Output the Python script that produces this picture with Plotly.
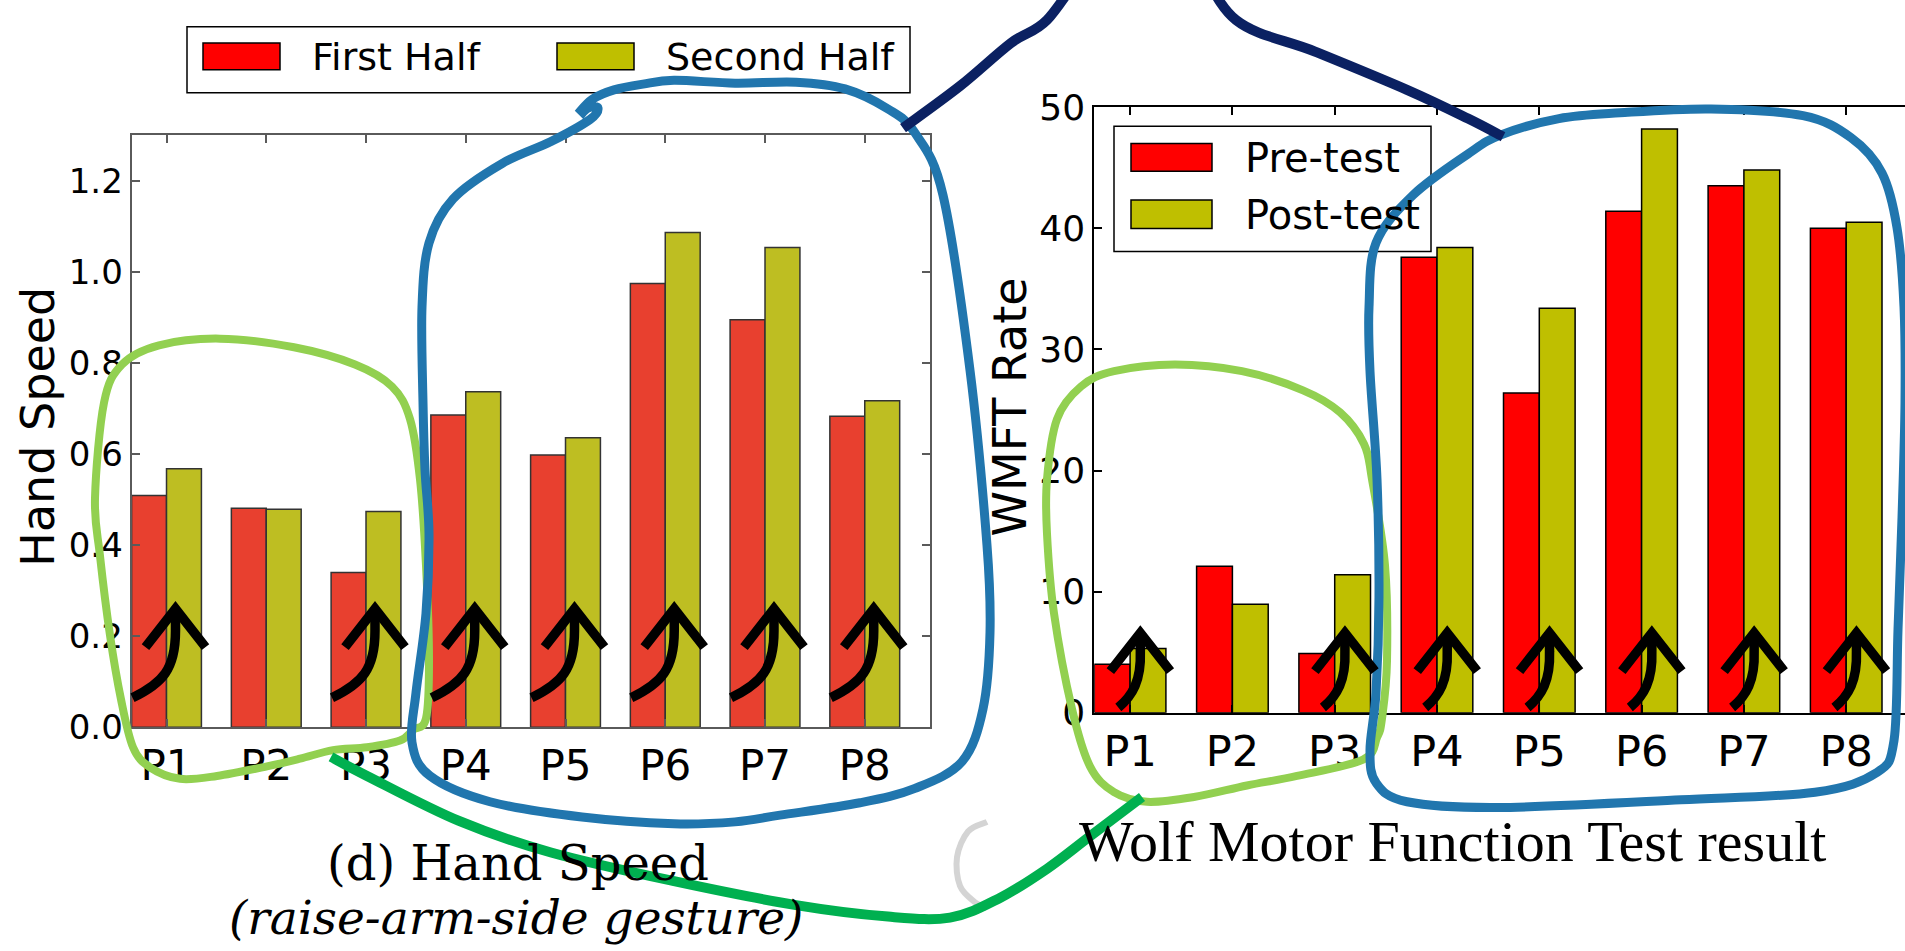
import numpy as np
import plotly.graph_objects as go

# ---------------- data ----------------
categories = ["P1", "P2", "P3", "P4", "P5", "P6", "P7", "P8"]
hand_first_half = [0.509, 0.481, 0.340, 0.686, 0.598, 0.975, 0.895, 0.683]
hand_second_half = [0.568, 0.479, 0.474, 0.737, 0.636, 1.087, 1.054, 0.717]
wmft_pre = [4.0, 12.1, 4.9, 37.6, 26.4, 41.4, 43.5, 40.0]
wmft_post = [5.3, 8.95, 11.4, 38.4, 33.4, 48.2, 44.8, 40.5]
hand_ticks = [0.0, 0.2, 0.4, 0.6, 0.8, 1.0, 1.2]
wmft_ticks = [0, 10, 20, 30, 40, 50]
left_series = ["First Half", "Second Half"]
right_series = ["Pre-test", "Post-test"]
improved = ["P1", "P3", "P4", "P5", "P6", "P7", "P8"]

# ---------------- geometry / style ----------------
W, H = 1905, 951
L_X0, L_X1, L_YT, L_YB = 131.6, 929.6, 120.7, 739.0
R_X0, R_UNIT, R_YT, R_YB = 1094.3, 102.3, 91.0, 724.0
BW = 0.35
L_RED, L_YEL = "#E8402F", "#BEBE22"
R_RED, R_YEL = "#FF0000", "#BFBF00"
BLUE, LGREEN, DGREEN, NAVY = "#2176AE", "#92D050", "#00B050", "#0B2162"
FONT = "DejaVu Sans"

x = np.arange(len(categories))


def pp(px, py):
    return px / W, 1 - py / H


def fmt(px, py):
    a, b = pp(px, py)
    return f"{a:.5f},{b:.5f}"


def smooth_path(pts, closed=False):
    pts = [np.array(p, float) for p in pts]
    n = len(pts)
    s = "M" + fmt(*pts[0])
    segs = n if closed else n - 1
    for i in range(segs):
        p0 = pts[(i - 1) % n] if (closed or i > 0) else pts[i]
        p1 = pts[i % n]
        p2 = pts[(i + 1) % n]
        p3 = pts[(i + 2) % n] if (closed or i + 2 < n) else pts[(i + 1) % n]
        c1 = p1 + (p2 - p0) / 6
        c2 = p2 - (p3 - p1) / 6
        s += " C" + fmt(*c1) + " " + fmt(*c2) + " " + fmt(*p2)
    if closed:
        s += " Z"
    return s


def stroke(pts, color, width, closed=False):
    return dict(type="path", xref="paper", yref="paper", path=smooth_path(pts, closed),
                line=dict(color=color, width=width), fillcolor="rgba(0,0,0,0)", layer="above")


def arrow(ax, ay, dx, dy, c1, c2):
    bx, by = ax + dx, ay + dy
    stem = ("M" + fmt(bx, by) + " C" + fmt(ax + c1[0], ay + c1[1]) + " " + fmt(ax + c2[0], ay + c2[1])
            + " " + fmt(ax, ay + dy * 0.25) + " L" + fmt(ax, ay))
    head = "M" + fmt(ax - 30, ay + 40) + " L" + fmt(ax, ay) + " L" + fmt(ax + 30, ay + 40)
    return [dict(type="path", xref="paper", yref="paper", path=p, line=dict(color="black", width=9.5),
                 layer="above") for p in (stem, head)]


fig = go.Figure()
fig.add_trace(go.Bar(x=x, y=hand_first_half, width=BW, offset=0, name=left_series[0],
                     marker=dict(color=L_RED, line=dict(color="#333333", width=1.5)),
                     xaxis="x", yaxis="y", showlegend=False))
fig.add_trace(go.Bar(x=x, y=hand_second_half, width=BW, offset=BW, name=left_series[1],
                     marker=dict(color=L_YEL, line=dict(color="#333333", width=1.5)),
                     xaxis="x", yaxis="y", showlegend=False))
fig.add_trace(go.Bar(x=x, y=wmft_pre, width=BW, offset=0, name=right_series[0],
                     marker=dict(color=R_RED, line=dict(color="black", width=1.5)),
                     xaxis="x2", yaxis="y2", showlegend=False))
fig.add_trace(go.Bar(x=x, y=wmft_post, width=BW, offset=BW, name=right_series[1],
                     marker=dict(color=R_YEL, line=dict(color="black", width=1.5)),
                     xaxis="x2", yaxis="y2", showlegend=False))

r_xmax = (W - R_X0) / R_UNIT
ax_common = dict(ticks="inside", ticklen=8, tickwidth=1.5, showgrid=False, zeroline=False, showline=True,
                 linewidth=2)
fig.update_layout(
    width=W, height=H, margin=dict(l=0, r=0, t=0, b=0), barmode="overlay",
    plot_bgcolor="white", paper_bgcolor="white", showlegend=False,
    xaxis=dict(domain=[L_X0 / W, L_X1 / W], range=[0, 8], tickvals=x + BW, ticktext=categories,
               mirror="ticks", linecolor="#5a5a5a", tickcolor="#5a5a5a",
               tickfont=dict(family=FONT, size=42, color="black"), anchor="y", **ax_common),
    yaxis=dict(domain=[1 - L_YB / H, 1 - L_YT / H], range=[0, 1.3], tickvals=hand_ticks,
               ticktext=[f"{v:.1f}" for v in hand_ticks], mirror="ticks", linecolor="#5a5a5a",
               tickcolor="#5a5a5a", tickfont=dict(family=FONT, size=34, color="black"), anchor="x",
               **ax_common),
    xaxis2=dict(domain=[R_X0 / W, 1.0], range=[0, r_xmax], tickvals=x + BW, ticktext=categories,
                mirror="ticks", linecolor="black", tickcolor="black",
                tickfont=dict(family=FONT, size=43, color="black"), anchor="y2", **ax_common),
    yaxis2=dict(domain=[1 - R_YB / H, 1 - R_YT / H], range=[0, 50], tickvals=wmft_ticks,
                mirror=False, linecolor="black", tickcolor="black",
                tickfont=dict(family=FONT, size=36, color="black"), anchor="x2", **ax_common),
)

shapes = []
annotations = []


def rect(x0, y0, x1, y1, fill, lw=1.5, color="black"):
    a, b = pp(x0, y1)
    c, d = pp(x1, y0)
    return dict(type="rect", xref="paper", yref="paper", x0=a, y0=b, x1=c, y1=d,
                fillcolor=fill, line=dict(color=color, width=lw), layer="above")


def text(px, py, s, size, family=FONT, xanchor="left", angle=0, italic=False):
    a, b = pp(px, py)
    return dict(x=a, y=b, xref="paper", yref="paper", text=s, showarrow=False, xanchor=xanchor,
                yanchor="middle", textangle=angle,
                font=dict(family=family, size=size, color="black", style="italic" if italic else "normal"))


# legends (drawn by hand to match the large swatches)
shapes.append(rect(187, 7, 910, 76, "white"))
shapes.append(rect(203, 24, 280, 52, R_RED))
shapes.append(rect(557, 24, 634, 52, R_YEL))
annotations.append(text(310, 39, left_series[0], 38))
annotations.append(text(664, 39, left_series[1], 38))

shapes.append(rect(1114, 111, 1431, 242, "white"))
shapes.append(rect(1131, 129, 1212, 158, R_RED))
shapes.append(rect(1131, 188, 1212, 218, R_YEL))
annotations.append(text(1243, 144, right_series[0], 40))
annotations.append(text(1243, 204, right_series[1], 40))

# axis titles and captions
annotations.append(text(38, 425, "Hand Speed", 46, xanchor="center", angle=-90))
annotations.append(text(1010, 405, "WMFT Rate", 46, xanchor="center", angle=-90))
annotations.append(text(518, 881, "(d) Hand Speed", 48, family="DejaVu Serif", xanchor="center"))
annotations.append(text(516, 938, "(raise-arm-side gesture)", 47, family="DejaVu Serif",
                        xanchor="center", italic=True))
annotations.append(text(1452, 859, "Wolf Motor Function Test result", 58, family="Liberation Serif",
                        xanchor="center"))

# hand-drawn highlight strokes
blue_left = [(578, 98), (592, 83), (614, 73), (643, 67), (674, 63), (735, 66), (796, 65), (845, 72),
             (888, 93), (915, 118), (943, 183), (970, 366), (987, 549), (990, 640), (983, 720),
             (962, 775), (915, 803), (860, 818), (780, 831), (735, 838), (674, 840), (582, 833),
             (490, 817), (430, 790), (412, 755), (416, 703), (426, 620), (429, 537), (425, 470),
             (423, 400), (422, 300), (429, 233), (453, 187), (502, 150), (551, 127), (590, 104),
             (598, 92), (588, 92), (580, 100)]
navy = [(903, 113), (960, 69), (1011, 24), (1047, 0), (1090, -60), (1140, -110), (1190, -70),
        (1236, 0), (1315, 33), (1407, 73), (1468, 103), (1503, 122)]
blue_right = [(1501, 120), (1559, 103), (1620, 97), (1711, 93), (1803, 100), (1851, 123), (1882, 160),
              (1897, 217), (1904, 300), (1905, 400), (1902, 520), (1898, 637), (1894, 753), (1876, 787),
              (1815, 807), (1681, 815), (1498, 823), (1407, 817), (1376, 797), (1370, 763), (1376, 703),
              (1379, 603), (1377, 480), (1370, 367), (1369, 300), (1376, 233), (1413, 183), (1468, 140)]
green_left = [(95, 500), (104, 400), (122, 360), (159, 340), (220, 333), (294, 342), (355, 360),
              (392, 383), (410, 417), (420, 480), (426, 570), (429, 670), (426, 730), (413, 742),
              (400, 753), (367, 760), (333, 763), (300, 772), (267, 780), (217, 790), (180, 793),
              (150, 781), (133, 760), (121, 710), (110, 643), (100, 560)]
green_right = [(1047, 480), (1057, 417), (1081, 383), (1114, 367), (1175, 360), (1242, 367), (1303, 387),
               (1340, 410), (1364, 443), (1372, 480), (1385, 570), (1387, 670), (1382, 730), (1377, 750),
               (1363, 773), (1297, 790), (1247, 800), (1194, 812), (1147, 817), (1114, 807), (1090, 780),
               (1072, 720), (1054, 620), (1047, 537)]
dgreen = [(331, 770), (367, 790), (459, 837), (551, 870), (674, 900), (796, 925), (888, 937),
          (950, 938), (999, 918), (1047, 887), (1090, 853), (1142, 812)]
grey_arc = [(987, 838), (968, 848), (957, 875), (960, 905), (975, 922), (987, 928)]

shapes.append(stroke(grey_arc, "#d4d4d4", 6))
shapes.append(stroke(green_left, LGREEN, 8, closed=True))
shapes.append(stroke(green_right, LGREEN, 8, closed=True))
shapes.append(stroke(blue_left, BLUE, 9))
shapes.append(stroke(blue_right, BLUE, 9, closed=True))
shapes.append(stroke(navy, NAVY, 10))
shapes.append(stroke(dgreen, DGREEN, 10))

# improvement arrows placed over each improved participant's bar pair
l_scale = (L_YB - L_YT) / 1.3
l_unit = (L_X1 - L_X0) / 8
r_scale = (R_YB - R_YT) / 50
for c in improved:
    i = categories.index(c)
    ax_ = L_X0 + (i + 0.44) * l_unit
    ay_ = L_YB - 0.26 * l_scale
    shapes += arrow(ax_, ay_, -43, 93, (-13, 78), (0, 63))
    ax_ = R_X0 + (i + 0.45) * R_UNIT
    ay_ = R_YB - 6.6 * r_scale
    shapes += arrow(ax_, ay_, -22, 78, (-8, 66), (1, 50))

fig.update_layout(shapes=shapes, annotations=annotations)
fig.write_html("out.html")
